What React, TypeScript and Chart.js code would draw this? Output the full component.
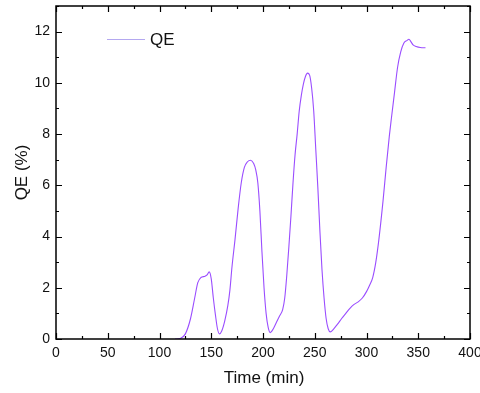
import React, { useEffect, useRef } from 'react';
import { Chart, registerables } from 'chart.js';

Chart.register(...registerables);

const timeMin = [
  115, 120, 125, 130, 134, 137, 140, 144, 146, 148, 150, 152, 154, 156, 158, 160, 163, 166, 168, 170,
  173, 176, 179, 182, 185, 188, 191, 193, 195, 197, 199, 201, 203, 205, 207, 210, 213, 216, 219, 221,
  223, 225, 227, 229, 231, 233, 235, 237, 239, 241, 243, 245, 247, 249, 251, 253, 255, 257, 259, 261,
  263, 265, 268, 272, 276, 280, 284, 288, 292, 296, 300, 303, 306, 309, 312, 316, 319, 322, 324, 327,
  330, 333, 336, 339, 341, 343, 345, 348, 352, 357,
];
const qePercent = [
  0, 0.02, 0.2, 0.8, 1.6, 2.2, 2.4, 2.45, 2.5, 2.62, 2.35, 1.6, 0.95, 0.4, 0.2, 0.3, 0.7, 1.3, 1.9, 2.8,
  3.9, 5.1, 6.1, 6.7, 6.92, 6.98, 6.85, 6.6, 6.1, 5.0, 3.4, 2.0, 1.0, 0.45, 0.25, 0.4, 0.65, 0.9, 1.15, 1.6,
  2.5, 3.6, 4.8, 6.1, 7.2, 8.0, 8.9, 9.5, 9.95, 10.25, 10.38, 10.3, 9.8, 8.9, 7.4, 5.9, 4.2, 2.7, 1.6, 0.8,
  0.4, 0.28, 0.38, 0.58, 0.8, 1.0, 1.2, 1.35, 1.45, 1.6, 1.85, 2.1, 2.4, 3.0, 3.9, 5.4, 6.7, 7.9, 8.6, 9.6,
  10.6, 11.2, 11.55, 11.65, 11.7, 11.6, 11.48, 11.42, 11.38, 11.37,
];

const seriesLabel = 'QE';
const xTitle = 'Time (min)';
const yTitle = 'QE (%)';
const xRange = [0, 400];
const yRange = [0, 13];
const yLabelMax = 12;
const xMajorStep = 50;
const yMajorStep = 2;

const FONT = '"Liberation Sans", Arial, sans-serif';

const framePlugin = {
  id: 'frame',
  afterDatasetsDraw(chart: any) {
    const { ctx, chartArea, scales } = chart;
    const { left, right, top, bottom } = chartArea;
    const x = scales.x;
    const y = scales.y;
    ctx.save();
    ctx.strokeStyle = '#000';
    ctx.lineWidth = 1.5;
    ctx.strokeRect(left, top, right - left, bottom - top);
    ctx.lineWidth = 1.2;
    ctx.beginPath();
    for (let v = xRange[0]; v <= xRange[1]; v += xMajorStep / 2) {
      const px = Math.round(x.getPixelForValue(v)) + 0.5;
      const len = v % xMajorStep === 0 ? 6 : 3;
      ctx.moveTo(px, bottom);
      ctx.lineTo(px, bottom - len);
      ctx.moveTo(px, top);
      ctx.lineTo(px, top + len);
    }
    for (let v = yRange[0]; v <= yRange[1]; v += yMajorStep / 2) {
      const py = Math.round(y.getPixelForValue(v)) + 0.5;
      const len = v % yMajorStep === 0 ? 6 : 3;
      ctx.moveTo(left, py);
      ctx.lineTo(left + len, py);
      ctx.moveTo(right, py);
      ctx.lineTo(right - len, py);
    }
    ctx.stroke();

    // axis titles
    ctx.fillStyle = '#111';
    ctx.font = `17px ${FONT}`;
    ctx.textAlign = 'center';
    ctx.textBaseline = 'middle';
    ctx.fillText(xTitle, (left + right) / 2 + 1, 378);
    ctx.save();
    ctx.translate(22, (top + bottom) / 2);
    ctx.rotate(-Math.PI / 2);
    ctx.fillText(yTitle, 0, 0);
    ctx.restore();

    // legend
    const ds = chart.data.datasets[0];
    ctx.strokeStyle = '#b4a8f0';
    ctx.lineWidth = 1;
    ctx.beginPath();
    ctx.moveTo(107, 39.5);
    ctx.lineTo(145, 39.5);
    ctx.stroke();
    ctx.textAlign = 'left';
    ctx.fillText(ds.label, 150, 40);
    ctx.restore();
  },
};

export default function App() {
  const ref = useRef<HTMLCanvasElement | null>(null);
  useEffect(() => {
    document.body.style.margin = '0';
    const canvas = ref.current;
    if (!canvas) return;
    const chart = new Chart(canvas, {
      type: 'line',
      data: {
        datasets: [
          {
            label: seriesLabel,
            data: timeMin.map((t, i) => ({ x: t, y: qePercent[i] })),
            borderColor: '#9a4dff',
            borderWidth: 1.1,
            pointRadius: 0,
            fill: false,
            tension: 0.4,
            cubicInterpolationMode: 'monotone',
          },
        ],
      },
      options: {
        responsive: false,
        animation: false,
        events: [],
        layout: { padding: { left: 0, right: 10, top: 6, bottom: 0 } },
        plugins: {
          legend: { display: false },
          tooltip: { enabled: false },
        },
        scales: {
          x: {
            type: 'linear',
            min: xRange[0],
            max: xRange[1],
            grid: { display: false, drawTicks: false },
            border: { display: false },
            ticks: {
              stepSize: xMajorStep,
              padding: 6,
              color: '#111',
              font: { family: FONT, size: 14 },
              maxRotation: 0,
            },
            afterFit: (s: any) => {
              s.height = 54;
              s.paddingLeft = 0;
              s.paddingRight = 0;
            },
          },
          y: {
            type: 'linear',
            min: yRange[0],
            max: yRange[1],
            grid: { display: false, drawTicks: false },
            border: { display: false },
            ticks: {
              stepSize: yMajorStep,
              padding: 6,
              color: '#111',
              font: { family: FONT, size: 14 },
            },
            afterBuildTicks: (s: any) => {
              s.ticks = s.ticks.filter((t: any) => t.value <= yLabelMax);
            },
            afterFit: (s: any) => {
              s.width = 56;
              s.paddingTop = 0;
              s.paddingBottom = 0;
            },
          },
        },
      },
      plugins: [framePlugin],
    } as any);
    return () => chart.destroy();
  }, []);
  return (
    <div style={{ position: 'absolute', left: 0, top: 0, width: 480, height: 393, background: '#fff' }}>
      <canvas ref={ref} width={480} height={393} style={{ display: 'block' }} />
    </div>
  );
}
